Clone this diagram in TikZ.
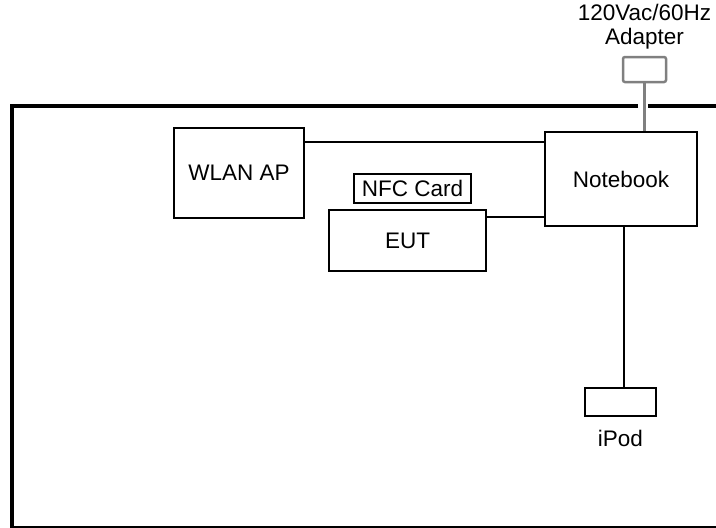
\documentclass[tikz,border=0pt]{standalone}
\usepackage{fontspec}
\setmainfont{Liberation Sans}
\usetikzlibrary{positioning}
\usetikzlibrary{calc}
\tikzset{every picture/.style={x=1pt,y=-1pt,line width=2pt},
  unit/.style={draw,inner sep=0pt,font=\fontsize{22.5}{25}\selectfont},
  lbl/.style={inner sep=0pt,align=center,font=\fontsize{22.5}{24}\selectfont},
  feed/.style={draw=gray,line width=3pt}}

\begin{document}
\begin{tikzpicture}
\useasboundingbox (0,0) rectangle (716,528);
% room outline
\draw[line width=4.5pt] (716,106) -- (648,106);
\draw[line width=4.5pt] (638,106) -- (12,106) -- (12,528) -- (716,528);
\node (wlan) at (239,173) [unit,minimum width=130pt,minimum height=90pt] {WLAN AP};
\node (nb) at (621,179) [unit,minimum width=152pt,minimum height=94pt] {Notebook};
\node (nfc) at (412.5,188.5) [unit,minimum width=117pt,minimum height=29pt] {NFC Card};
\node (eut) at (407.5,240.5) [unit,minimum width=157pt,minimum height=61pt] {EUT};
\node (ipod) at (620.5,402) [unit,minimum width=71pt,minimum height=28pt] {};
\node (ipodlbl) [lbl,below=12pt of ipod] {iPod};
\node (adapter) at (644.5,69.5) [draw=gray,line width=2.5pt,rounded corners=2pt,minimum width=43pt,minimum height=25pt] {};
\node (adlbl) [lbl,above=6pt of adapter] {120Vac/60Hz\\Adapter};
\draw ([yshift=-15pt]wlan.north east) -- ([yshift=-15pt]wlan.north east -| nb.west);
\draw ([yshift=-8pt]eut.north east) -- ([yshift=-8pt]eut.north east -| nb.west);
\draw ([xshift=3pt]ipod.north) -- ([xshift=3pt]ipod.north |- nb.south);
\draw[feed] (adapter.south) -- (adapter.south |- nb.north);
\end{tikzpicture}
\end{document}
